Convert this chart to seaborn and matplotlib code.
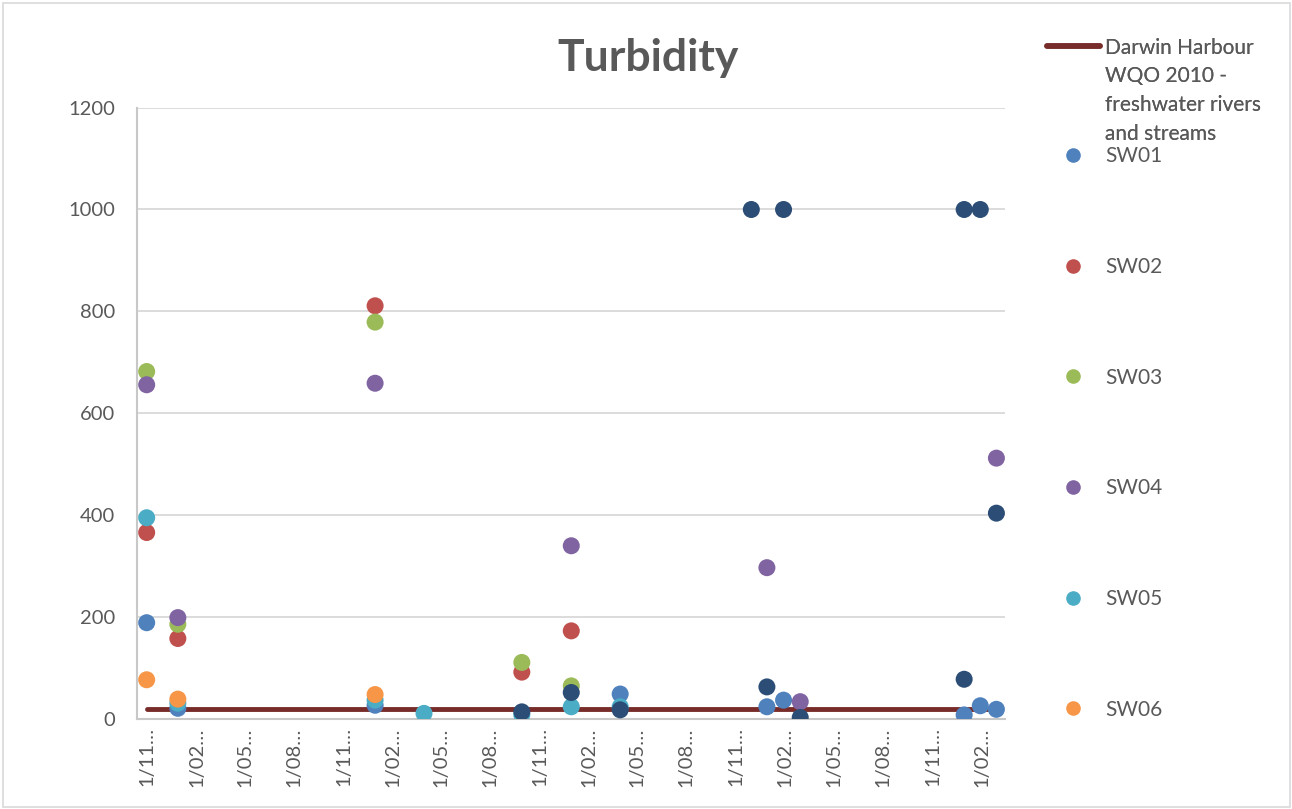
import numpy as np
import pandas as pd
import matplotlib
matplotlib.use("Agg")
import matplotlib.pyplot as plt
import matplotlib.dates as mdates
from matplotlib.lines import Line2D
from matplotlib.patches import Rectangle
from matplotlib.legend_handler import HandlerLine2D
from matplotlib.ticker import FuncFormatter
import seaborn as sns

# ---- data: turbidity (NTU) per monitoring site ----
sites = ["SW01", "SW02", "SW03", "SW04", "SW05", "SW06", "SW07"]

sw01_dates = ["2012-10-31", "2012-12-28", "2013-12-30", "2015-03-31", "2015-12-29",
              "2016-01-29", "2016-12-30", "2017-01-29", "2017-02-28"]
sw01_vals = [189, 21, 27, 49, 24, 37, 8, 26, 19]

sw02_dates = ["2012-10-31", "2012-12-28", "2013-12-30", "2014-09-29", "2014-12-30"]
sw02_vals = [366, 158, 811, 92, 173]

sw03_dates = ["2012-10-31", "2012-12-28", "2013-12-30", "2014-09-29", "2014-12-30"]
sw03_vals = [682, 186, 779, 111, 65]

sw04_dates = ["2012-10-31", "2012-12-28", "2013-12-30", "2014-12-30", "2015-12-29",
              "2016-02-29", "2017-02-28"]
sw04_vals = [656, 199, 659, 340, 297, 34, 512]

sw05_dates = ["2012-10-31", "2012-12-28", "2013-12-30", "2014-03-31", "2014-09-29",
              "2014-12-30", "2015-03-31"]
sw05_vals = [395, 31, 37, 11, 8, 24, 24]

sw06_dates = ["2012-10-31", "2012-12-28", "2013-12-30"]
sw06_vals = [77, 39, 48]

sw07_dates = ["2014-09-29", "2014-12-30", "2015-03-31", "2015-11-30", "2015-12-29",
              "2016-01-29", "2016-02-29", "2016-12-30", "2016-12-30", "2017-01-29",
              "2017-02-28"]
sw07_vals = [14, 52, 18, 1000, 63, 1000, 3, 1000, 78, 1000, 404]

# water quality objective (guideline) line
wqo_label = "Darwin Harbour\nWQO 2010 -\nfreshwater rivers\nand streams"
wqo_dates = ["2012-10-31", "2017-02-28"]
wqo_vals = [20, 20]

legend_sites = ["SW01", "SW02", "SW03", "SW04", "SW05", "SW06"]
y_ticks = [0, 200, 400, 600, 800, 1000, 1200]

# ---- styling ----
site_colors = {
    "SW01": "#4F81BD", "SW02": "#C0504D", "SW03": "#9BBB59",
    "SW04": "#8064A2", "SW05": "#4BACC6", "SW06": "#F79646",
    "SW07": "#2C4D75",
}
wqo_color = "#772C2A"
text_color = "#595959"
grid_color = "#D9D9D9"

sns.set_theme(style="white")
plt.rcParams["font.family"] = ["Lato", "DejaVu Sans"]

frames = []
for name, d, v in zip(sites,
                      [sw01_dates, sw02_dates, sw03_dates, sw04_dates, sw05_dates, sw06_dates, sw07_dates],
                      [sw01_vals, sw02_vals, sw03_vals, sw04_vals, sw05_vals, sw06_vals, sw07_vals]):
    frames.append(pd.DataFrame({"date": pd.to_datetime(d), "value": v, "site": name}))
df = pd.concat(frames, ignore_index=True)
wqo = pd.DataFrame({"date": pd.to_datetime(wqo_dates), "value": wqo_vals})

W, H = 1292, 809
fig = plt.figure(figsize=(W / 100, H / 100), dpi=100)
fig.patch.set_facecolor("white")
ax = fig.add_axes([137 / W, 90 / H, (1005 - 137) / W, (719 - 107.6) / H])

sns.lineplot(data=wqo, x="date", y="value", color=wqo_color, lw=3.5, ax=ax,
             zorder=2, legend=False)
sns.scatterplot(data=df, x="date", y="value", hue="site", hue_order=sites,
                palette=site_colors, s=150, linewidth=0, alpha=1,
                legend=False, ax=ax, zorder=3)

ax.set_ylim(0, 1200)
ax.set_yticks(y_ticks)
ax.set_xlim(pd.Timestamp("2012-10-13"), pd.Timestamp("2017-03-16"))
ax.xaxis.set_major_locator(mdates.MonthLocator(bymonth=[2, 5, 8, 11], bymonthday=1))
ax.xaxis.set_major_formatter(
    FuncFormatter(lambda x, pos: f"{mdates.num2date(x).day}/{mdates.num2date(x):%m}\u2026"))
ax.set_xlabel("")
ax.set_ylabel("")

ax.yaxis.grid(True, color=grid_color, lw=1.3)
ax.xaxis.grid(False)
ax.set_axisbelow(True)
for side in ["top", "right"]:
    ax.spines[side].set_visible(False)
for side in ["left", "bottom"]:
    ax.spines[side].set_color("#C8C8C8")
    ax.spines[side].set_linewidth(1.5)

ax.tick_params(axis="y", length=0, pad=16, labelsize=14.5, labelcolor=text_color)
ax.tick_params(axis="x", length=0, pad=6, labelsize=14.5, labelcolor=text_color,
               labelrotation=90)

fig.text(648 / W, 1 - 58 / H, "Turbidity", ha="center", va="center",
         fontsize=32, fontweight="bold", color=text_color)


class TopAlignedLine(HandlerLine2D):
    """Line handle raised to sit beside the first line of a multi-line label."""

    def __init__(self, shift, **kw):
        super().__init__(**kw)
        self.shift = shift

    def create_artists(self, legend, orig_handle, xdescent, ydescent, width,
                       height, fontsize, trans):
        artists = super().create_artists(legend, orig_handle, xdescent, ydescent,
                                         width, height, fontsize, trans)
        for a in artists:
            a.set_ydata(np.asarray(a.get_ydata(), dtype=float) + self.shift)
        return artists


wqo_handle = Line2D([], [], color=wqo_color, lw=4)
leg1 = fig.legend([wqo_handle], [wqo_label], loc="upper left",
                  bbox_to_anchor=(1047 / W, 1 - 37.5 / H), frameon=False,
                  fontsize=15, borderpad=0, borderaxespad=0,
                  handlelength=2.55, handletextpad=0.24,
                  handler_map={wqo_handle: TopAlignedLine(32.4)},
                  labelcolor=text_color)
for t in leg1.get_texts():
    t.set_linespacing(1.55)

site_handles = [Line2D([], [], ls="none", marker="o", markersize=10.5,
                       markerfacecolor=site_colors[s], markeredgewidth=0)
                for s in legend_sites]
leg2 = fig.legend(site_handles, legend_sites, loc="upper left",
                  bbox_to_anchor=(1057.4 / W, 1 - 146.5 / H), frameon=False,
                  fontsize=15, borderpad=0, borderaxespad=0,
                  handlelength=1.5, handletextpad=0.79,
                  labelspacing=4.35, labelcolor=text_color)
fig.add_artist(leg1)

fig.add_artist(Rectangle((2.5 / W, 2.5 / H), (W - 5) / W, (H - 5) / H,
                         transform=fig.transFigure, fill=False,
                         edgecolor=grid_color, lw=1.2))

fig.savefig("out.png", dpi=100, facecolor="white")
